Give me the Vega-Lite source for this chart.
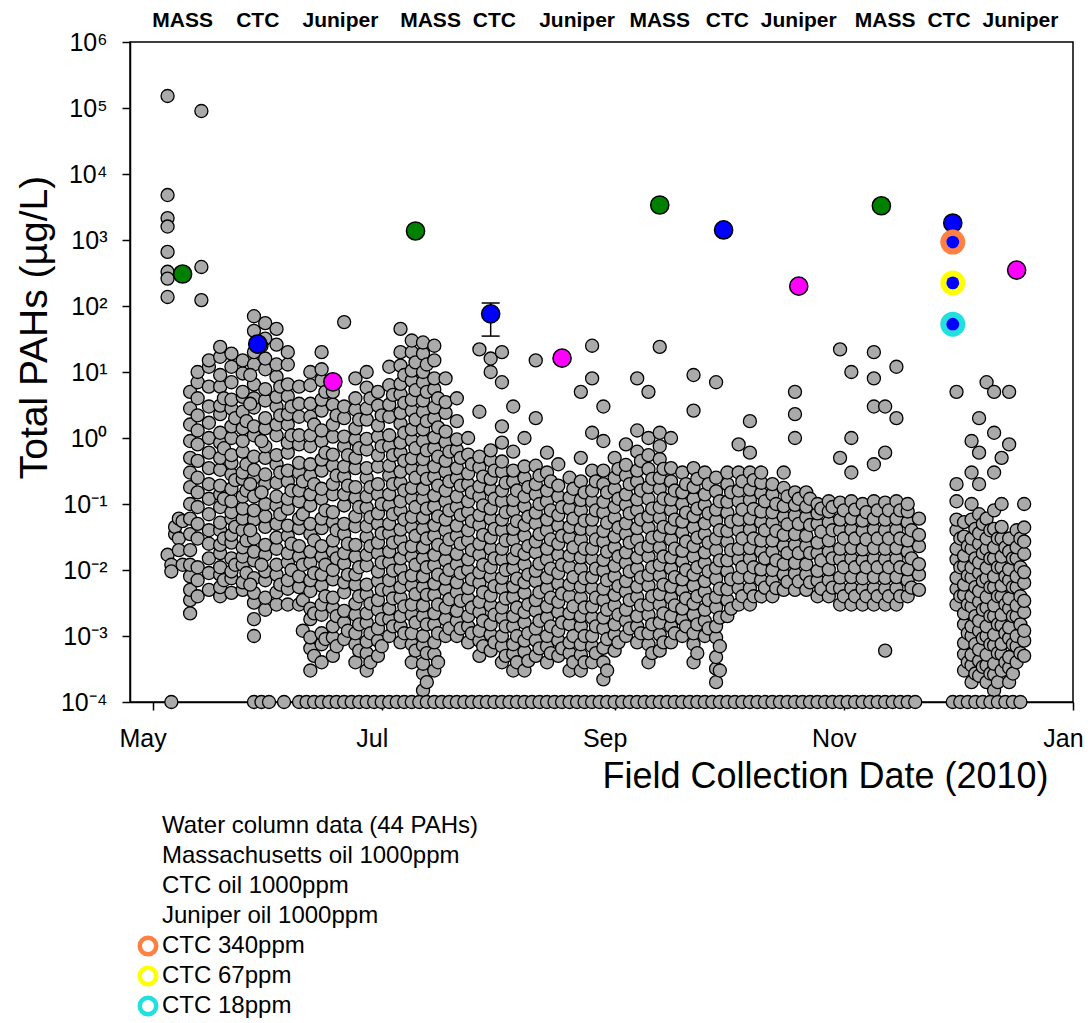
{
  "$schema": "https://vega.github.io/schema/vega-lite/v6.json",
  "width": 943,
  "height": 660,
  "autosize": "none",
  "padding": {"left": 130, "top": 42, "right": 15, "bottom": 321},
  "background": "white",
  "config": {
    "font": "Liberation Sans",
    "view": {"stroke": "black", "strokeWidth": 1.5},
    "axis": {"grid": false, "domainColor": "black", "domainWidth": 1.5, "tickColor": "black", "tickWidth": 1.5, "labelColor": "black", "titleColor": "black"}
  },
  "datasets": {
    "water": [
      {"day":125,"pah":152000},{"day":125,"pah":4800},{"day":125,"pah":2150},{"day":125,"pah":1600},{"day":125,"pah":660},{"day":125,"pah":330},{"day":125,"pah":260},{"day":125,"pah":137},{"day":125,"pah":0.017},{"day":126,"pah":0.012},{"day":126,"pah":0.0095},
      {"day":127,"pah":0.035},{"day":127,"pah":0.045},{"day":128,"pah":0.06},{"day":128,"pah":0.03},{"day":128,"pah":0.02},{"day":129,"pah":0.055},{"day":129,"pah":0.012},
      {"day":131,"pah":0.0022},{"day":131,"pah":0.0035},{"day":131,"pah":0.005},{"day":131,"pah":0.008},{"day":131,"pah":0.012},{"day":131,"pah":0.02},{"day":131,"pah":0.035},{"day":131,"pah":0.06},{"day":131,"pah":0.1},{"day":131,"pah":0.18},{"day":131,"pah":0.3},{"day":131,"pah":0.5},{"day":131,"pah":0.9},{"day":131,"pah":1.6},{"day":131,"pah":2.8},{"day":131,"pah":5},
      {"day":133,"pah":0.004},{"day":133,"pah":0.007},{"day":133,"pah":0.011},{"day":133,"pah":0.03},{"day":133,"pah":0.05},{"day":133,"pah":0.09},{"day":133,"pah":0.15},{"day":133,"pah":0.25},{"day":133,"pah":0.45},{"day":133,"pah":0.8},{"day":133,"pah":1.3},{"day":133,"pah":2.2},{"day":133,"pah":4},{"day":133,"pah":7},{"day":133,"pah":10},
      {"day":134,"pah":90000},{"day":134,"pah":390},{"day":134,"pah":123},
      {"day":136,"pah":0.005},{"day":136,"pah":0.009},{"day":136,"pah":0.015},{"day":136,"pah":0.025},{"day":136,"pah":0.04},{"day":136,"pah":0.07},{"day":136,"pah":0.12},{"day":136,"pah":0.2},{"day":136,"pah":0.35},{"day":136,"pah":0.6},{"day":136,"pah":1},{"day":136,"pah":1.7},{"day":136,"pah":3},{"day":136,"pah":6},{"day":136,"pah":12},{"day":136,"pah":15},
      {"day":139,"pah":0.004},{"day":139,"pah":0.0055},{"day":139,"pah":0.0085},{"day":139,"pah":0.011},{"day":139,"pah":0.018},{"day":139,"pah":0.024},{"day":139,"pah":0.04},{"day":139,"pah":0.052},{"day":139,"pah":0.09},{"day":139,"pah":0.14},{"day":139,"pah":0.19},{"day":139,"pah":0.33},{"day":139,"pah":0.5},{"day":139,"pah":0.85},{"day":139,"pah":1.2},{"day":139,"pah":2.3},{"day":139,"pah":3.1},{"day":139,"pah":6},{"day":139,"pah":9},{"day":139,"pah":17},{"day":139,"pah":24},
      {"day":140,"pah":0.007},{"day":140,"pah":0.03},{"day":140,"pah":0.12},{"day":140,"pah":0.7},{"day":140,"pah":4},
      {"day":142,"pah":0.0045},{"day":142,"pah":0.0075},{"day":142,"pah":0.0095},{"day":142,"pah":0.015},{"day":142,"pah":0.026},{"day":142,"pah":0.034},{"day":142,"pah":0.06},{"day":142,"pah":0.075},{"day":142,"pah":0.11},{"day":142,"pah":0.17},{"day":142,"pah":0.28},{"day":142,"pah":0.42},{"day":142,"pah":0.55},{"day":142,"pah":1},{"day":142,"pah":1.5},{"day":142,"pah":2.8},{"day":142,"pah":3.8},{"day":142,"pah":7},{"day":142,"pah":12},{"day":142,"pah":19},
      {"day":143,"pah":0.012},{"day":143,"pah":0.045},{"day":143,"pah":0.23},{"day":143,"pah":2},
      {"day":145,"pah":0.005},{"day":145,"pah":0.0065},{"day":145,"pah":0.012},{"day":145,"pah":0.016},{"day":145,"pah":0.022},{"day":145,"pah":0.04},{"day":145,"pah":0.06},{"day":145,"pah":0.085},{"day":145,"pah":0.13},{"day":145,"pah":0.24},{"day":145,"pah":0.3},{"day":145,"pah":0.62},{"day":145,"pah":0.9},{"day":145,"pah":1.4},{"day":145,"pah":2.5},{"day":145,"pah":4.2},{"day":145,"pah":5},{"day":145,"pah":9.5},{"day":145,"pah":15},
      {"day":146,"pah":0.009},{"day":146,"pah":0.028},{"day":146,"pah":0.16},{"day":146,"pah":0.4},{"day":146,"pah":1.8},
      {"day":148,"pah":0.001},{"day":148,"pah":0.0018},{"day":148,"pah":0.0032},{"day":148,"pah":0.0045},{"day":148,"pah":0.0075},{"day":148,"pah":0.014},{"day":148,"pah":0.019},{"day":148,"pah":0.03},{"day":148,"pah":0.058},{"day":148,"pah":0.08},{"day":148,"pah":0.13},{"day":148,"pah":0.25},{"day":148,"pah":0.33},{"day":148,"pah":0.52},{"day":148,"pah":1.1},{"day":148,"pah":1.5},{"day":148,"pah":2.9},{"day":148,"pah":4},{"day":148,"pah":6.5},{"day":148,"pah":13},{"day":148,"pah":20},{"day":148,"pah":42},{"day":148,"pah":70},
      {"day":147,"pah":0.006},{"day":147,"pah":0.04},{"day":147,"pah":0.2},{"day":147,"pah":3.3},{"day":147,"pah":9},
      {"day":151,"pah":0.0025},{"day":151,"pah":0.0038},{"day":151,"pah":0.007},{"day":151,"pah":0.0095},{"day":151,"pah":0.017},{"day":151,"pah":0.024},{"day":151,"pah":0.045},{"day":151,"pah":0.065},{"day":151,"pah":0.1},{"day":151,"pah":0.2},{"day":151,"pah":0.28},{"day":151,"pah":0.5},{"day":151,"pah":0.75},{"day":151,"pah":1.4},{"day":151,"pah":2},{"day":151,"pah":3.7},{"day":151,"pah":5.5},{"day":151,"pah":11},{"day":151,"pah":16},{"day":151,"pah":32},{"day":151,"pah":55},
      {"day":150,"pah":0.012},{"day":150,"pah":0.15},{"day":150,"pah":0.9},{"day":150,"pah":25},
      {"day":154,"pah":0.003},{"day":154,"pah":0.0046},{"day":154,"pah":0.0085},{"day":154,"pah":0.012},{"day":154,"pah":0.021},{"day":154,"pah":0.031},{"day":154,"pah":0.05},{"day":154,"pah":0.095},{"day":154,"pah":0.13},{"day":154,"pah":0.21},{"day":154,"pah":0.4},{"day":154,"pah":0.55},{"day":154,"pah":1.1},{"day":154,"pah":1.6},{"day":154,"pah":3},{"day":154,"pah":4.2},{"day":154,"pah":8.5},{"day":154,"pah":13},{"day":154,"pah":26},{"day":154,"pah":45},
      {"day":155,"pah":0.006},{"day":155,"pah":0.07},{"day":155,"pah":0.3},{"day":155,"pah":2.2},{"day":155,"pah":6},
      {"day":157,"pah":0.003},{"day":157,"pah":0.0052},{"day":157,"pah":0.007},{"day":157,"pah":0.013},{"day":157,"pah":0.018},{"day":157,"pah":0.033},{"day":157,"pah":0.047},{"day":157,"pah":0.085},{"day":157,"pah":0.12},{"day":157,"pah":0.22},{"day":157,"pah":0.32},{"day":157,"pah":0.6},{"day":157,"pah":0.85},{"day":157,"pah":1.6},{"day":157,"pah":2.3},{"day":157,"pah":4.3},{"day":157,"pah":6.5},{"day":157,"pah":13},{"day":157,"pah":20},
      {"day":158,"pah":0.01},{"day":158,"pah":0.025},{"day":158,"pah":0.16},{"day":158,"pah":1.1},{"day":158,"pah":3},
      {"day":160,"pah":0.003},{"day":160,"pah":0.0055},{"day":160,"pah":0.008},{"day":160,"pah":0.016},{"day":160,"pah":0.023},{"day":160,"pah":0.043},{"day":160,"pah":0.06},{"day":160,"pah":0.11},{"day":160,"pah":0.16},{"day":160,"pah":0.3},{"day":160,"pah":0.42},{"day":160,"pah":0.8},{"day":160,"pah":1.1},{"day":160,"pah":2.1},{"day":160,"pah":3.3},{"day":160,"pah":6},
      {"day":161,"pah":0.0012},{"day":161,"pah":0.0035},{"day":161,"pah":0.012},{"day":161,"pah":0.07},{"day":161,"pah":0.22},
      {"day":163,"pah":0.0003},{"day":163,"pah":0.00065},{"day":163,"pah":0.00095},{"day":163,"pah":0.0018},{"day":163,"pah":0.0026},{"day":163,"pah":0.0048},{"day":163,"pah":0.007},{"day":163,"pah":0.013},{"day":163,"pah":0.019},{"day":163,"pah":0.035},{"day":163,"pah":0.05},{"day":163,"pah":0.095},{"day":163,"pah":0.14},{"day":163,"pah":0.27},{"day":163,"pah":0.4},{"day":163,"pah":0.75},{"day":163,"pah":1.1},{"day":163,"pah":2.1},{"day":163,"pah":3.3},{"day":163,"pah":6.3},{"day":163,"pah":10},
      {"day":164,"pah":0.0005},{"day":164,"pah":0.0022},{"day":164,"pah":0.009},{"day":164,"pah":0.028},{"day":164,"pah":0.2},{"day":164,"pah":1.6},
      {"day":166,"pah":0.0004},{"day":166,"pah":0.00075},{"day":166,"pah":0.0011},{"day":166,"pah":0.0021},{"day":166,"pah":0.003},{"day":166,"pah":0.0058},{"day":166,"pah":0.0085},{"day":166,"pah":0.016},{"day":166,"pah":0.023},{"day":166,"pah":0.043},{"day":166,"pah":0.06},{"day":166,"pah":0.12},{"day":166,"pah":0.17},{"day":166,"pah":0.32},{"day":166,"pah":0.47},{"day":166,"pah":0.9},{"day":166,"pah":1.3},{"day":166,"pah":2.6},{"day":166,"pah":3.8},{"day":166,"pah":7.5},{"day":166,"pah":11},{"day":166,"pah":20},
      {"day":167,"pah":0.0009},{"day":167,"pah":0.004},{"day":167,"pah":0.012},{"day":167,"pah":0.08},{"day":167,"pah":0.6},{"day":167,"pah":5},
      {"day":169,"pah":0.0005},{"day":169,"pah":0.00095},{"day":169,"pah":0.0014},{"day":169,"pah":0.0027},{"day":169,"pah":0.0038},{"day":169,"pah":0.0072},{"day":169,"pah":0.01},{"day":169,"pah":0.019},{"day":169,"pah":0.028},{"day":169,"pah":0.053},{"day":169,"pah":0.075},{"day":169,"pah":0.14},{"day":169,"pah":0.2},{"day":169,"pah":0.38},{"day":169,"pah":0.56},{"day":169,"pah":1.05},{"day":169,"pah":1.6},{"day":169,"pah":3.2},{"day":169,"pah":5},
      {"day":170,"pah":0.0007},{"day":170,"pah":0.002},{"day":170,"pah":0.015},{"day":170,"pah":0.04},{"day":170,"pah":0.27},{"day":170,"pah":2.2},
      {"day":172,"pah":0.0009},{"day":172,"pah":0.0016},{"day":172,"pah":0.0024},{"day":172,"pah":0.0046},{"day":172,"pah":0.0065},{"day":172,"pah":0.0125},{"day":172,"pah":0.018},{"day":172,"pah":0.035},{"day":172,"pah":0.05},{"day":172,"pah":0.095},{"day":172,"pah":0.14},{"day":172,"pah":0.26},{"day":172,"pah":0.37},{"day":172,"pah":0.75},{"day":172,"pah":1.05},{"day":172,"pah":2},{"day":172,"pah":3},{"day":172,"pah":57},
      {"day":173,"pah":0.0012},{"day":173,"pah":0.0085},{"day":173,"pah":0.025},{"day":173,"pah":0.19},{"day":173,"pah":0.55},
      {"day":175,"pah":0.0004},{"day":175,"pah":0.00075},{"day":175,"pah":0.0011},{"day":175,"pah":0.0021},{"day":175,"pah":0.0031},{"day":175,"pah":0.006},{"day":175,"pah":0.0086},{"day":175,"pah":0.016},{"day":175,"pah":0.024},{"day":175,"pah":0.046},{"day":175,"pah":0.065},{"day":175,"pah":0.125},{"day":175,"pah":0.18},{"day":175,"pah":0.35},{"day":175,"pah":0.5},{"day":175,"pah":0.95},{"day":175,"pah":1.4},{"day":175,"pah":2.7},{"day":175,"pah":4},{"day":175,"pah":8},
      {"day":176,"pah":0.0006},{"day":176,"pah":0.0015},{"day":176,"pah":0.004},{"day":176,"pah":0.011},{"day":176,"pah":0.09},{"day":176,"pah":0.7},{"day":176,"pah":1.9},
      {"day":178,"pah":0.0003},{"day":178,"pah":0.00055},{"day":178,"pah":0.00082},{"day":178,"pah":0.0016},{"day":178,"pah":0.0022},{"day":178,"pah":0.0043},{"day":178,"pah":0.006},{"day":178,"pah":0.0118},{"day":178,"pah":0.017},{"day":178,"pah":0.032},{"day":178,"pah":0.046},{"day":178,"pah":0.088},{"day":178,"pah":0.13},{"day":178,"pah":0.25},{"day":178,"pah":0.35},{"day":178,"pah":0.67},{"day":178,"pah":0.97},{"day":178,"pah":1.9},{"day":178,"pah":2.8},{"day":178,"pah":5.8},{"day":178,"pah":10},
      {"day":179,"pah":0.0004},{"day":179,"pah":0.0011},{"day":179,"pah":0.0031},{"day":179,"pah":0.023},{"day":179,"pah":0.063},{"day":179,"pah":0.18},{"day":179,"pah":4},
      {"day":181,"pah":0.0005},{"day":181,"pah":0.00085},{"day":181,"pah":0.0013},{"day":181,"pah":0.0025},{"day":181,"pah":0.0035},{"day":181,"pah":0.0068},{"day":181,"pah":0.0095},{"day":181,"pah":0.018},{"day":181,"pah":0.026},{"day":181,"pah":0.05},{"day":181,"pah":0.072},{"day":181,"pah":0.14},{"day":181,"pah":0.2},{"day":181,"pah":0.37},{"day":181,"pah":0.55},{"day":181,"pah":1.05},{"day":181,"pah":1.55},{"day":181,"pah":3.1},{"day":181,"pah":5},
      {"day":182,"pah":0.0007},{"day":182,"pah":0.0018},{"day":182,"pah":0.005},{"day":182,"pah":0.013},{"day":182,"pah":0.036},{"day":182,"pah":0.1},{"day":182,"pah":0.75},{"day":182,"pah":2.2},
      {"day":184,"pah":0.001},{"day":184,"pah":0.0018},{"day":184,"pah":0.0026},{"day":184,"pah":0.0049},{"day":184,"pah":0.007},{"day":184,"pah":0.013},{"day":184,"pah":0.019},{"day":184,"pah":0.036},{"day":184,"pah":0.05},{"day":184,"pah":0.095},{"day":184,"pah":0.14},{"day":184,"pah":0.27},{"day":184,"pah":0.38},{"day":184,"pah":0.75},{"day":184,"pah":1.1},{"day":184,"pah":2.1},{"day":184,"pah":3.2},{"day":184,"pah":6.3},{"day":184,"pah":12},
      {"day":185,"pah":0.0014},{"day":185,"pah":0.0037},{"day":185,"pah":0.0098},{"day":185,"pah":0.026},{"day":185,"pah":0.07},{"day":185,"pah":0.2},{"day":185,"pah":0.55},{"day":185,"pah":4.5},
      {"day":187,"pah":0.0008},{"day":187,"pah":0.0014},{"day":187,"pah":0.002},{"day":187,"pah":0.0038},{"day":187,"pah":0.0055},{"day":187,"pah":0.0105},{"day":187,"pah":0.015},{"day":187,"pah":0.029},{"day":187,"pah":0.041},{"day":187,"pah":0.08},{"day":187,"pah":0.11},{"day":187,"pah":0.21},{"day":187,"pah":0.31},{"day":187,"pah":0.6},{"day":187,"pah":0.85},{"day":187,"pah":1.65},{"day":187,"pah":2.4},{"day":187,"pah":4.6},{"day":187,"pah":6.6},{"day":187,"pah":12.5},{"day":187,"pah":20},{"day":187,"pah":45},
      {"day":188,"pah":0.0011},{"day":188,"pah":0.0028},{"day":188,"pah":0.0075},{"day":188,"pah":0.021},{"day":188,"pah":0.058},{"day":188,"pah":0.16},{"day":188,"pah":0.45},{"day":188,"pah":1.2},{"day":188,"pah":3.4},{"day":188,"pah":9},
      {"day":190,"pah":0.0004},{"day":190,"pah":0.00075},{"day":190,"pah":0.0011},{"day":190,"pah":0.0021},{"day":190,"pah":0.003},{"day":190,"pah":0.0058},{"day":190,"pah":0.0083},{"day":190,"pah":0.016},{"day":190,"pah":0.023},{"day":190,"pah":0.044},{"day":190,"pah":0.064},{"day":190,"pah":0.12},{"day":190,"pah":0.175},{"day":190,"pah":0.34},{"day":190,"pah":0.49},{"day":190,"pah":0.93},{"day":190,"pah":1.35},{"day":190,"pah":2.6},{"day":190,"pah":3.8},{"day":190,"pah":7.4},{"day":190,"pah":10.5},{"day":190,"pah":20},{"day":190,"pah":30},
      {"day":191,"pah":0.0006},{"day":191,"pah":0.0016},{"day":191,"pah":0.0043},{"day":191,"pah":0.012},{"day":191,"pah":0.033},{"day":191,"pah":0.09},{"day":191,"pah":0.25},{"day":191,"pah":0.7},{"day":191,"pah":1.9},{"day":191,"pah":5.3},{"day":191,"pah":14},
      {"day":193,"pah":0.00015},{"day":193,"pah":0.00027},{"day":193,"pah":0.00038},{"day":193,"pah":0.00072},{"day":193,"pah":0.001},{"day":193,"pah":0.002},{"day":193,"pah":0.0029},{"day":193,"pah":0.0055},{"day":193,"pah":0.008},{"day":193,"pah":0.015},{"day":193,"pah":0.022},{"day":193,"pah":0.042},{"day":193,"pah":0.062},{"day":193,"pah":0.12},{"day":193,"pah":0.17},{"day":193,"pah":0.33},{"day":193,"pah":0.48},{"day":193,"pah":0.9},{"day":193,"pah":1.35},{"day":193,"pah":2.5},{"day":193,"pah":3.7},{"day":193,"pah":7},{"day":193,"pah":10},{"day":193,"pah":19},{"day":193,"pah":28},
      {"day":194,"pah":0.0002},{"day":194,"pah":0.00055},{"day":194,"pah":0.0015},{"day":194,"pah":0.0042},{"day":194,"pah":0.011},{"day":194,"pah":0.03},{"day":194,"pah":0.085},{"day":194,"pah":0.24},{"day":194,"pah":0.65},{"day":194,"pah":1.8},{"day":194,"pah":5},{"day":194,"pah":13},
      {"day":196,"pah":0.0003},{"day":196,"pah":0.00053},{"day":196,"pah":0.0008},{"day":196,"pah":0.0015},{"day":196,"pah":0.0022},{"day":196,"pah":0.0042},{"day":196,"pah":0.0062},{"day":196,"pah":0.0118},{"day":196,"pah":0.017},{"day":196,"pah":0.033},{"day":196,"pah":0.048},{"day":196,"pah":0.092},{"day":196,"pah":0.135},{"day":196,"pah":0.26},{"day":196,"pah":0.37},{"day":196,"pah":0.7},{"day":196,"pah":1.02},{"day":196,"pah":2},{"day":196,"pah":2.9},{"day":196,"pah":5.5},{"day":196,"pah":8},{"day":196,"pah":15},{"day":196,"pah":25},
      {"day":197,"pah":0.0004},{"day":197,"pah":0.0011},{"day":197,"pah":0.003},{"day":197,"pah":0.0085},{"day":197,"pah":0.024},{"day":197,"pah":0.065},{"day":197,"pah":0.19},{"day":197,"pah":0.52},{"day":197,"pah":1.45},{"day":197,"pah":4},
      {"day":199,"pah":0.001},{"day":199,"pah":0.0018},{"day":199,"pah":0.0027},{"day":199,"pah":0.0051},{"day":199,"pah":0.0074},{"day":199,"pah":0.014},{"day":199,"pah":0.021},{"day":199,"pah":0.04},{"day":199,"pah":0.058},{"day":199,"pah":0.11},{"day":199,"pah":0.16},{"day":199,"pah":0.31},{"day":199,"pah":0.45},{"day":199,"pah":0.87},{"day":199,"pah":1.25},{"day":199,"pah":2.4},{"day":199,"pah":3.5},{"day":199,"pah":8},
      {"day":200,"pah":0.0013},{"day":200,"pah":0.0036},{"day":200,"pah":0.01},{"day":200,"pah":0.029},{"day":200,"pah":0.08},{"day":200,"pah":0.22},{"day":200,"pah":0.62},
      {"day":202,"pah":0.001},{"day":202,"pah":0.0017},{"day":202,"pah":0.0024},{"day":202,"pah":0.0046},{"day":202,"pah":0.0065},{"day":202,"pah":0.0122},{"day":202,"pah":0.0175},{"day":202,"pah":0.033},{"day":202,"pah":0.047},{"day":202,"pah":0.09},{"day":202,"pah":0.13},{"day":202,"pah":0.245},{"day":202,"pah":0.35},{"day":202,"pah":0.66},{"day":202,"pah":0.95},{"day":202,"pah":1.8},{"day":202,"pah":4},
      {"day":203,"pah":0.0013},{"day":203,"pah":0.0034},{"day":203,"pah":0.009},{"day":203,"pah":0.025},{"day":203,"pah":0.068},{"day":203,"pah":0.19},{"day":203,"pah":0.5},
      {"day":205,"pah":0.0008},{"day":205,"pah":0.0014},{"day":205,"pah":0.002},{"day":205,"pah":0.0037},{"day":205,"pah":0.0053},{"day":205,"pah":0.0101},{"day":205,"pah":0.0145},{"day":205,"pah":0.028},{"day":205,"pah":0.04},{"day":205,"pah":0.076},{"day":205,"pah":0.11},{"day":205,"pah":0.2},{"day":205,"pah":0.29},{"day":205,"pah":0.56},{"day":205,"pah":1},
      {"day":206,"pah":0.0011},{"day":206,"pah":0.0027},{"day":206,"pah":0.0072},{"day":206,"pah":0.02},{"day":206,"pah":0.055},{"day":206,"pah":0.15},{"day":206,"pah":0.4},
      {"day":208,"pah":0.0005},{"day":208,"pah":0.00085},{"day":208,"pah":0.0012},{"day":208,"pah":0.0023},{"day":208,"pah":0.0033},{"day":208,"pah":0.0064},{"day":208,"pah":0.0092},{"day":208,"pah":0.017},{"day":208,"pah":0.025},{"day":208,"pah":0.048},{"day":208,"pah":0.068},{"day":208,"pah":0.13},{"day":208,"pah":0.185},{"day":208,"pah":0.36},{"day":208,"pah":0.52},{"day":208,"pah":2.5},{"day":208,"pah":22},
      {"day":209,"pah":0.0007},{"day":209,"pah":0.0017},{"day":209,"pah":0.0046},{"day":209,"pah":0.012},{"day":209,"pah":0.034},{"day":209,"pah":0.095},{"day":209,"pah":0.26},
      {"day":211,"pah":0.0006},{"day":211,"pah":0.00105},{"day":211,"pah":0.0015},{"day":211,"pah":0.0029},{"day":211,"pah":0.0041},{"day":211,"pah":0.0079},{"day":211,"pah":0.011},{"day":211,"pah":0.021},{"day":211,"pah":0.031},{"day":211,"pah":0.06},{"day":211,"pah":0.085},{"day":211,"pah":0.165},{"day":211,"pah":0.24},{"day":211,"pah":0.46},{"day":211,"pah":0.65},{"day":211,"pah":10},{"day":211,"pah":16},
      {"day":212,"pah":0.0008},{"day":212,"pah":0.0021},{"day":212,"pah":0.0057},{"day":212,"pah":0.015},{"day":212,"pah":0.042},{"day":212,"pah":0.12},{"day":212,"pah":0.32},
      {"day":214,"pah":0.0004},{"day":214,"pah":0.0007},{"day":214,"pah":0.001},{"day":214,"pah":0.0019},{"day":214,"pah":0.0027},{"day":214,"pah":0.0053},{"day":214,"pah":0.0076},{"day":214,"pah":0.0145},{"day":214,"pah":0.021},{"day":214,"pah":0.04},{"day":214,"pah":0.058},{"day":214,"pah":0.11},{"day":214,"pah":0.16},{"day":214,"pah":0.31},{"day":214,"pah":0.44},{"day":214,"pah":0.85},{"day":214,"pah":1.5},{"day":214,"pah":7},{"day":214,"pah":20},
      {"day":215,"pah":0.0005},{"day":215,"pah":0.0014},{"day":215,"pah":0.0037},{"day":215,"pah":0.01},{"day":215,"pah":0.028},{"day":215,"pah":0.075},{"day":215,"pah":0.21},
      {"day":217,"pah":0.0003},{"day":217,"pah":0.00054},{"day":217,"pah":0.00075},{"day":217,"pah":0.0014},{"day":217,"pah":0.002},{"day":217,"pah":0.0039},{"day":217,"pah":0.0056},{"day":217,"pah":0.0106},{"day":217,"pah":0.015},{"day":217,"pah":0.029},{"day":217,"pah":0.042},{"day":217,"pah":0.08},{"day":217,"pah":0.115},{"day":217,"pah":0.22},{"day":217,"pah":0.32},{"day":217,"pah":0.62},{"day":217,"pah":3},
      {"day":218,"pah":0.0004},{"day":218,"pah":0.001},{"day":218,"pah":0.0027},{"day":218,"pah":0.0074},{"day":218,"pah":0.02},{"day":218,"pah":0.055},{"day":218,"pah":0.16},
      {"day":220,"pah":0.0003},{"day":220,"pah":0.00058},{"day":220,"pah":0.00085},{"day":220,"pah":0.0016},{"day":220,"pah":0.0023},{"day":220,"pah":0.0045},{"day":220,"pah":0.0065},{"day":220,"pah":0.0122},{"day":220,"pah":0.0175},{"day":220,"pah":0.033},{"day":220,"pah":0.048},{"day":220,"pah":0.092},{"day":220,"pah":0.13},{"day":220,"pah":0.25},{"day":220,"pah":0.37},{"day":220,"pah":1},
      {"day":221,"pah":0.00042},{"day":221,"pah":0.0011},{"day":221,"pah":0.003},{"day":221,"pah":0.0085},{"day":221,"pah":0.023},{"day":221,"pah":0.064},{"day":221,"pah":0.18},
      {"day":223,"pah":0.0005},{"day":223,"pah":0.00086},{"day":223,"pah":0.0013},{"day":223,"pah":0.0024},{"day":223,"pah":0.0035},{"day":223,"pah":0.0068},{"day":223,"pah":0.0097},{"day":223,"pah":0.0185},{"day":223,"pah":0.027},{"day":223,"pah":0.051},{"day":223,"pah":0.074},{"day":223,"pah":0.14},{"day":223,"pah":0.2},{"day":223,"pah":0.38},{"day":223,"pah":2},{"day":223,"pah":15},
      {"day":224,"pah":0.00065},{"day":224,"pah":0.0017},{"day":224,"pah":0.0046},{"day":224,"pah":0.0125},{"day":224,"pah":0.035},{"day":224,"pah":0.1},{"day":224,"pah":0.27},
      {"day":226,"pah":0.0004},{"day":226,"pah":0.0007},{"day":226,"pah":0.001},{"day":226,"pah":0.0019},{"day":226,"pah":0.0028},{"day":226,"pah":0.0053},{"day":226,"pah":0.0077},{"day":226,"pah":0.0145},{"day":226,"pah":0.021},{"day":226,"pah":0.04},{"day":226,"pah":0.058},{"day":226,"pah":0.11},{"day":226,"pah":0.16},{"day":226,"pah":0.3},{"day":226,"pah":0.6},
      {"day":227,"pah":0.00055},{"day":227,"pah":0.0014},{"day":227,"pah":0.0038},{"day":227,"pah":0.0105},{"day":227,"pah":0.029},{"day":227,"pah":0.08},{"day":227,"pah":0.22},
      {"day":229,"pah":0.0005},{"day":229,"pah":0.00085},{"day":229,"pah":0.0012},{"day":229,"pah":0.0023},{"day":229,"pah":0.0033},{"day":229,"pah":0.0062},{"day":229,"pah":0.009},{"day":229,"pah":0.017},{"day":229,"pah":0.025},{"day":229,"pah":0.047},{"day":229,"pah":0.068},{"day":229,"pah":0.13},{"day":229,"pah":0.19},{"day":229,"pah":0.4},
      {"day":230,"pah":0.00065},{"day":230,"pah":0.0016},{"day":230,"pah":0.0044},{"day":230,"pah":0.012},{"day":230,"pah":0.033},{"day":230,"pah":0.09},
      {"day":232,"pah":0.0003},{"day":232,"pah":0.00055},{"day":232,"pah":0.0008},{"day":232,"pah":0.0015},{"day":232,"pah":0.0022},{"day":232,"pah":0.004},{"day":232,"pah":0.006},{"day":232,"pah":0.011},{"day":232,"pah":0.0165},{"day":232,"pah":0.031},{"day":232,"pah":0.045},{"day":232,"pah":0.085},{"day":232,"pah":0.125},{"day":232,"pah":0.25},
      {"day":233,"pah":0.0004},{"day":233,"pah":0.001},{"day":233,"pah":0.0028},{"day":233,"pah":0.0078},{"day":233,"pah":0.022},{"day":233,"pah":0.06},{"day":233,"pah":0.17},
      {"day":235,"pah":0.0003},{"day":235,"pah":0.00052},{"day":235,"pah":0.00075},{"day":235,"pah":0.0014},{"day":235,"pah":0.002},{"day":235,"pah":0.0038},{"day":235,"pah":0.0056},{"day":235,"pah":0.0105},{"day":235,"pah":0.0155},{"day":235,"pah":0.029},{"day":235,"pah":0.042},{"day":235,"pah":0.08},{"day":235,"pah":0.115},{"day":235,"pah":0.22},{"day":235,"pah":0.5},{"day":235,"pah":5},
      {"day":236,"pah":0.0004},{"day":236,"pah":0.001},{"day":236,"pah":0.0027},{"day":236,"pah":0.0075},{"day":236,"pah":0.021},{"day":236,"pah":0.056},{"day":236,"pah":0.15},
      {"day":238,"pah":0.0004},{"day":238,"pah":0.0007},{"day":238,"pah":0.001},{"day":238,"pah":0.0019},{"day":238,"pah":0.0028},{"day":238,"pah":0.0053},{"day":238,"pah":0.0078},{"day":238,"pah":0.0148},{"day":238,"pah":0.021},{"day":238,"pah":0.04},{"day":238,"pah":0.058},{"day":238,"pah":0.11},{"day":238,"pah":0.16},{"day":238,"pah":0.32},{"day":238,"pah":1.2},{"day":238,"pah":8},{"day":238,"pah":25},
      {"day":239,"pah":0.00055},{"day":239,"pah":0.0014},{"day":239,"pah":0.0038},{"day":239,"pah":0.0105},{"day":239,"pah":0.029},{"day":239,"pah":0.08},{"day":239,"pah":0.22},
      {"day":241,"pah":0.00022},{"day":241,"pah":0.0004},{"day":241,"pah":0.00066},{"day":241,"pah":0.0013},{"day":241,"pah":0.0019},{"day":241,"pah":0.0035},{"day":241,"pah":0.0052},{"day":241,"pah":0.0098},{"day":241,"pah":0.0142},{"day":241,"pah":0.027},{"day":241,"pah":0.039},{"day":241,"pah":0.074},{"day":241,"pah":0.108},{"day":241,"pah":0.2},{"day":241,"pah":0.32},{"day":241,"pah":0.9},{"day":241,"pah":3},
      {"day":242,"pah":0.0003},{"day":242,"pah":0.0009},{"day":242,"pah":0.0025},{"day":242,"pah":0.007},{"day":242,"pah":0.019},{"day":242,"pah":0.052},{"day":242,"pah":0.15},
      {"day":244,"pah":0.0006},{"day":244,"pah":0.00105},{"day":244,"pah":0.0015},{"day":244,"pah":0.0029},{"day":244,"pah":0.0042},{"day":244,"pah":0.008},{"day":244,"pah":0.0116},{"day":244,"pah":0.022},{"day":244,"pah":0.032},{"day":244,"pah":0.062},{"day":244,"pah":0.09},{"day":244,"pah":0.17},{"day":244,"pah":0.25},{"day":244,"pah":0.5},
      {"day":245,"pah":0.0008},{"day":245,"pah":0.0021},{"day":245,"pah":0.0057},{"day":245,"pah":0.016},{"day":245,"pah":0.044},{"day":245,"pah":0.12},{"day":245,"pah":0.34},
      {"day":247,"pah":0.001},{"day":247,"pah":0.0017},{"day":247,"pah":0.0025},{"day":247,"pah":0.0047},{"day":247,"pah":0.0068},{"day":247,"pah":0.0128},{"day":247,"pah":0.0185},{"day":247,"pah":0.035},{"day":247,"pah":0.051},{"day":247,"pah":0.097},{"day":247,"pah":0.14},{"day":247,"pah":0.27},{"day":247,"pah":0.39},{"day":247,"pah":0.8},
      {"day":248,"pah":0.0013},{"day":248,"pah":0.0035},{"day":248,"pah":0.0095},{"day":248,"pah":0.026},{"day":248,"pah":0.072},{"day":248,"pah":0.2},
      {"day":250,"pah":0.0008},{"day":250,"pah":0.0014},{"day":250,"pah":0.002},{"day":250,"pah":0.0039},{"day":250,"pah":0.0056},{"day":250,"pah":0.0106},{"day":250,"pah":0.0155},{"day":250,"pah":0.029},{"day":250,"pah":0.043},{"day":250,"pah":0.081},{"day":250,"pah":0.117},{"day":250,"pah":0.22},{"day":250,"pah":0.32},{"day":250,"pah":0.62},{"day":250,"pah":1.3},{"day":250,"pah":8},
      {"day":251,"pah":0.0011},{"day":251,"pah":0.0029},{"day":251,"pah":0.0077},{"day":251,"pah":0.021},{"day":251,"pah":0.058},{"day":251,"pah":0.16},{"day":251,"pah":0.45},
      {"day":253,"pah":0.0004},{"day":253,"pah":0.00075},{"day":253,"pah":0.0011},{"day":253,"pah":0.0021},{"day":253,"pah":0.003},{"day":253,"pah":0.0058},{"day":253,"pah":0.0084},{"day":253,"pah":0.016},{"day":253,"pah":0.023},{"day":253,"pah":0.044},{"day":253,"pah":0.065},{"day":253,"pah":0.12},{"day":253,"pah":0.18},{"day":253,"pah":0.34},{"day":253,"pah":0.55},{"day":253,"pah":1},{"day":253,"pah":5},
      {"day":254,"pah":0.00055},{"day":254,"pah":0.0015},{"day":254,"pah":0.004},{"day":254,"pah":0.011},{"day":254,"pah":0.031},{"day":254,"pah":0.085},{"day":254,"pah":0.24},
      {"day":256,"pah":0.0006},{"day":256,"pah":0.00105},{"day":256,"pah":0.0016},{"day":256,"pah":0.003},{"day":256,"pah":0.0043},{"day":256,"pah":0.0082},{"day":256,"pah":0.012},{"day":256,"pah":0.022},{"day":256,"pah":0.033},{"day":256,"pah":0.062},{"day":256,"pah":0.09},{"day":256,"pah":0.17},{"day":256,"pah":0.25},{"day":256,"pah":0.48},{"day":256,"pah":0.75},{"day":256,"pah":1.2},{"day":256,"pah":24},
      {"day":257,"pah":0.0008},{"day":257,"pah":0.0022},{"day":257,"pah":0.006},{"day":257,"pah":0.016},{"day":257,"pah":0.045},{"day":257,"pah":0.12},{"day":257,"pah":0.34},
      {"day":259,"pah":0.0008},{"day":259,"pah":0.0014},{"day":259,"pah":0.002},{"day":259,"pah":0.0038},{"day":259,"pah":0.0056},{"day":259,"pah":0.0106},{"day":259,"pah":0.0155},{"day":259,"pah":0.029},{"day":259,"pah":0.043},{"day":259,"pah":0.081},{"day":259,"pah":0.117},{"day":259,"pah":0.22},{"day":259,"pah":0.35},{"day":259,"pah":1},
      {"day":260,"pah":0.0011},{"day":260,"pah":0.0029},{"day":260,"pah":0.0078},{"day":260,"pah":0.021},{"day":260,"pah":0.058},{"day":260,"pah":0.16},
      {"day":262,"pah":0.001},{"day":262,"pah":0.0018},{"day":262,"pah":0.0026},{"day":262,"pah":0.0049},{"day":262,"pah":0.0072},{"day":262,"pah":0.0135},{"day":262,"pah":0.0195},{"day":262,"pah":0.037},{"day":262,"pah":0.054},{"day":262,"pah":0.1},{"day":262,"pah":0.15},{"day":262,"pah":0.3},
      {"day":263,"pah":0.0014},{"day":263,"pah":0.0037},{"day":263,"pah":0.01},{"day":263,"pah":0.027},{"day":263,"pah":0.074},{"day":263,"pah":0.2},
      {"day":265,"pah":0.0004},{"day":265,"pah":0.00075},{"day":265,"pah":0.0011},{"day":265,"pah":0.0021},{"day":265,"pah":0.0031},{"day":265,"pah":0.0058},{"day":265,"pah":0.0085},{"day":265,"pah":0.016},{"day":265,"pah":0.023},{"day":265,"pah":0.044},{"day":265,"pah":0.065},{"day":265,"pah":0.12},{"day":265,"pah":0.18},{"day":265,"pah":0.35},{"day":265,"pah":2.6},{"day":265,"pah":9},
      {"day":266,"pah":0.00055},{"day":266,"pah":0.0015},{"day":266,"pah":0.004},{"day":266,"pah":0.011},{"day":266,"pah":0.031},{"day":266,"pah":0.085},{"day":266,"pah":0.24},
      {"day":268,"pah":0.001},{"day":268,"pah":0.0017},{"day":268,"pah":0.0025},{"day":268,"pah":0.0047},{"day":268,"pah":0.0068},{"day":268,"pah":0.0128},{"day":268,"pah":0.0185},{"day":268,"pah":0.035},{"day":268,"pah":0.051},{"day":268,"pah":0.097},{"day":268,"pah":0.14},{"day":268,"pah":0.3},
      {"day":269,"pah":0.0013},{"day":269,"pah":0.0035},{"day":269,"pah":0.0095},{"day":269,"pah":0.026},{"day":269,"pah":0.072},{"day":269,"pah":0.2},
      {"day":271,"pah":0.0002},{"day":271,"pah":0.00032},{"day":271,"pah":0.00048},{"day":271,"pah":0.00095},{"day":271,"pah":0.0014},{"day":271,"pah":0.0027},{"day":271,"pah":0.0039},{"day":271,"pah":0.0074},{"day":271,"pah":0.0108},{"day":271,"pah":0.02},{"day":271,"pah":0.03},{"day":271,"pah":0.056},{"day":271,"pah":0.082},{"day":271,"pah":0.155},{"day":271,"pah":0.25},{"day":271,"pah":7},
      {"day":272,"pah":0.0003},{"day":272,"pah":0.0007},{"day":272,"pah":0.0019},{"day":272,"pah":0.0052},{"day":272,"pah":0.014},{"day":272,"pah":0.04},{"day":272,"pah":0.11},
      {"day":274,"pah":0.002},{"day":274,"pah":0.0035},{"day":274,"pah":0.0051},{"day":274,"pah":0.0096},{"day":274,"pah":0.014},{"day":274,"pah":0.027},{"day":274,"pah":0.039},{"day":274,"pah":0.074},{"day":274,"pah":0.108},{"day":274,"pah":0.2},{"day":274,"pah":0.3},
      {"day":275,"pah":0.0026},{"day":275,"pah":0.0072},{"day":275,"pah":0.02},{"day":275,"pah":0.054},{"day":275,"pah":0.15},
      {"day":277,"pah":0.003},{"day":277,"pah":0.0053},{"day":277,"pah":0.0077},{"day":277,"pah":0.0145},{"day":277,"pah":0.021},{"day":277,"pah":0.04},{"day":277,"pah":0.058},{"day":277,"pah":0.11},{"day":277,"pah":0.16},{"day":277,"pah":0.3},{"day":277,"pah":0.8},
      {"day":278,"pah":0.004},{"day":278,"pah":0.011},{"day":278,"pah":0.03},{"day":278,"pah":0.082},{"day":278,"pah":0.22},
      {"day":280,"pah":0.003},{"day":280,"pah":0.0053},{"day":280,"pah":0.0078},{"day":280,"pah":0.0148},{"day":280,"pah":0.0215},{"day":280,"pah":0.041},{"day":280,"pah":0.06},{"day":280,"pah":0.115},{"day":280,"pah":0.165},{"day":280,"pah":0.3},{"day":280,"pah":0.6},{"day":280,"pah":1.8},
      {"day":281,"pah":0.004},{"day":281,"pah":0.011},{"day":281,"pah":0.03},{"day":281,"pah":0.084},{"day":281,"pah":0.23},
      {"day":283,"pah":0.004},{"day":283,"pah":0.007},{"day":283,"pah":0.0102},{"day":283,"pah":0.019},{"day":283,"pah":0.028},{"day":283,"pah":0.053},{"day":283,"pah":0.077},{"day":283,"pah":0.145},{"day":283,"pah":0.21},{"day":283,"pah":0.3},
      {"day":284,"pah":0.0054},{"day":284,"pah":0.015},{"day":284,"pah":0.04},{"day":284,"pah":0.11},
      {"day":286,"pah":0.004},{"day":286,"pah":0.0069},{"day":286,"pah":0.01},{"day":286,"pah":0.019},{"day":286,"pah":0.028},{"day":286,"pah":0.052},{"day":286,"pah":0.075},{"day":286,"pah":0.14},{"day":286,"pah":0.2},
      {"day":287,"pah":0.0053},{"day":287,"pah":0.014},{"day":287,"pah":0.039},{"day":287,"pah":0.1},
      {"day":289,"pah":0.005},{"day":289,"pah":0.0085},{"day":289,"pah":0.0123},{"day":289,"pah":0.023},{"day":289,"pah":0.034},{"day":289,"pah":0.064},{"day":289,"pah":0.093},{"day":289,"pah":0.175},{"day":289,"pah":0.3},
      {"day":290,"pah":0.0066},{"day":290,"pah":0.018},{"day":290,"pah":0.049},{"day":290,"pah":0.13},
      {"day":292,"pah":0.005},{"day":292,"pah":0.0088},{"day":292,"pah":0.0128},{"day":292,"pah":0.024},{"day":292,"pah":0.035},{"day":292,"pah":0.067},{"day":292,"pah":0.097},{"day":292,"pah":0.15},{"day":292,"pah":1},{"day":292,"pah":2.3},{"day":292,"pah":5},
      {"day":293,"pah":0.0067},{"day":293,"pah":0.018},{"day":293,"pah":0.05},{"day":293,"pah":0.12},
      {"day":295,"pah":0.005},{"day":295,"pah":0.0085},{"day":295,"pah":0.0122},{"day":295,"pah":0.023},{"day":295,"pah":0.033},{"day":295,"pah":0.063},{"day":295,"pah":0.091},{"day":295,"pah":0.15},
      {"day":296,"pah":0.0065},{"day":296,"pah":0.018},{"day":296,"pah":0.048},{"day":296,"pah":0.12},
      {"day":298,"pah":0.004},{"day":298,"pah":0.0069},{"day":298,"pah":0.0097},{"day":298,"pah":0.018},{"day":298,"pah":0.026},{"day":298,"pah":0.05},{"day":298,"pah":0.072},{"day":298,"pah":0.1},
      {"day":299,"pah":0.0052},{"day":299,"pah":0.014},{"day":299,"pah":0.038},{"day":299,"pah":0.085},
      {"day":301,"pah":0.004},{"day":301,"pah":0.007},{"day":301,"pah":0.0102},{"day":301,"pah":0.019},{"day":301,"pah":0.028},{"day":301,"pah":0.053},{"day":301,"pah":0.077},{"day":301,"pah":0.11},
      {"day":302,"pah":0.0054},{"day":302,"pah":0.015},{"day":302,"pah":0.04},{"day":302,"pah":0.09},
      {"day":304,"pah":0.003},{"day":304,"pah":0.0053},{"day":304,"pah":0.0077},{"day":304,"pah":0.0145},{"day":304,"pah":0.021},{"day":304,"pah":0.04},{"day":304,"pah":0.058},{"day":304,"pah":0.105},{"day":304,"pah":0.5},{"day":304,"pah":22},
      {"day":305,"pah":0.004},{"day":305,"pah":0.011},{"day":305,"pah":0.03},{"day":305,"pah":0.08},
      {"day":307,"pah":0.003},{"day":307,"pah":0.0053},{"day":307,"pah":0.0078},{"day":307,"pah":0.0148},{"day":307,"pah":0.0215},{"day":307,"pah":0.041},{"day":307,"pah":0.06},{"day":307,"pah":0.11},{"day":307,"pah":0.3},{"day":307,"pah":1},{"day":307,"pah":10},
      {"day":308,"pah":0.004},{"day":308,"pah":0.011},{"day":308,"pah":0.03},{"day":308,"pah":0.082},
      {"day":310,"pah":0.003},{"day":310,"pah":0.0052},{"day":310,"pah":0.0075},{"day":310,"pah":0.014},{"day":310,"pah":0.0205},{"day":310,"pah":0.039},{"day":310,"pah":0.056},{"day":310,"pah":0.1},
      {"day":311,"pah":0.004},{"day":311,"pah":0.011},{"day":311,"pah":0.029},{"day":311,"pah":0.075},
      {"day":313,"pah":0.003},{"day":313,"pah":0.0053},{"day":313,"pah":0.0078},{"day":313,"pah":0.0148},{"day":313,"pah":0.0215},{"day":313,"pah":0.041},{"day":313,"pah":0.06},{"day":313,"pah":0.11},{"day":313,"pah":0.4},{"day":313,"pah":3},{"day":313,"pah":8},{"day":313,"pah":20},
      {"day":314,"pah":0.004},{"day":314,"pah":0.011},{"day":314,"pah":0.03},{"day":314,"pah":0.08},
      {"day":316,"pah":0.0006},{"day":316,"pah":0.003},{"day":316,"pah":0.0052},{"day":316,"pah":0.0076},{"day":316,"pah":0.0145},{"day":316,"pah":0.021},{"day":316,"pah":0.04},{"day":316,"pah":0.058},{"day":316,"pah":0.105},{"day":316,"pah":0.6},{"day":316,"pah":3},
      {"day":317,"pah":0.004},{"day":317,"pah":0.011},{"day":317,"pah":0.03},{"day":317,"pah":0.08},
      {"day":319,"pah":0.003},{"day":319,"pah":0.0053},{"day":319,"pah":0.0078},{"day":319,"pah":0.0148},{"day":319,"pah":0.0215},{"day":319,"pah":0.041},{"day":319,"pah":0.06},{"day":319,"pah":0.11},{"day":319,"pah":2},{"day":319,"pah":12},
      {"day":320,"pah":0.004},{"day":320,"pah":0.011},{"day":320,"pah":0.03},{"day":320,"pah":0.08},
      {"day":322,"pah":0.004},{"day":322,"pah":0.007},{"day":322,"pah":0.0102},{"day":322,"pah":0.019},{"day":322,"pah":0.028},{"day":322,"pah":0.053},{"day":322,"pah":0.077},{"day":322,"pah":0.1},
      {"day":323,"pah":0.0054},{"day":323,"pah":0.015},{"day":323,"pah":0.04},
      {"day":325,"pah":0.005},{"day":325,"pah":0.0085},{"day":325,"pah":0.0123},{"day":325,"pah":0.023},{"day":325,"pah":0.034},{"day":325,"pah":0.06},
      {"day":335,"pah":0.003},{"day":335,"pah":0.0052},{"day":335,"pah":0.0076},{"day":335,"pah":0.0145},{"day":335,"pah":0.021},{"day":335,"pah":0.04},{"day":335,"pah":0.058},{"day":335,"pah":0.11},{"day":335,"pah":0.2},{"day":335,"pah":5},
      {"day":336,"pah":0.004},{"day":336,"pah":0.011},{"day":336,"pah":0.03},
      {"day":337,"pah":0.0003},{"day":337,"pah":0.00053},{"day":337,"pah":0.00078},{"day":337,"pah":0.0015},{"day":337,"pah":0.0022},{"day":337,"pah":0.0042},{"day":337,"pah":0.006},{"day":337,"pah":0.0115},{"day":337,"pah":0.0165},{"day":337,"pah":0.032},{"day":337,"pah":0.053},
      {"day":338,"pah":0.0004},{"day":338,"pah":0.0011},{"day":338,"pah":0.003},{"day":338,"pah":0.0082},{"day":338,"pah":0.023},
      {"day":339,"pah":0.0002},{"day":339,"pah":0.00036},{"day":339,"pah":0.00052},{"day":339,"pah":0.001},{"day":339,"pah":0.0014},{"day":339,"pah":0.0028},{"day":339,"pah":0.004},{"day":339,"pah":0.0077},{"day":339,"pah":0.011},{"day":339,"pah":0.021},{"day":339,"pah":0.03},{"day":339,"pah":0.058},{"day":339,"pah":0.1},{"day":339,"pah":0.3},{"day":339,"pah":0.9},
      {"day":340,"pah":0.00027},{"day":340,"pah":0.00075},{"day":340,"pah":0.002},{"day":340,"pah":0.0055},{"day":340,"pah":0.015},{"day":340,"pah":0.042},
      {"day":341,"pah":0.00025},{"day":341,"pah":0.00042},{"day":341,"pah":0.00062},{"day":341,"pah":0.0012},{"day":341,"pah":0.0017},{"day":341,"pah":0.0033},{"day":341,"pah":0.0048},{"day":341,"pah":0.009},{"day":341,"pah":0.013},{"day":341,"pah":0.025},{"day":341,"pah":0.036},{"day":341,"pah":0.07},{"day":341,"pah":0.2},{"day":341,"pah":0.6},{"day":341,"pah":2},
      {"day":342,"pah":0.00034},{"day":342,"pah":0.00092},{"day":342,"pah":0.0025},{"day":342,"pah":0.0068},{"day":342,"pah":0.018},{"day":342,"pah":0.05},
      {"day":343,"pah":0.0002},{"day":343,"pah":0.00036},{"day":343,"pah":0.00052},{"day":343,"pah":0.001},{"day":343,"pah":0.0014},{"day":343,"pah":0.0027},{"day":343,"pah":0.0039},{"day":343,"pah":0.0075},{"day":343,"pah":0.0108},{"day":343,"pah":0.021},{"day":343,"pah":0.03},{"day":343,"pah":0.06},{"day":343,"pah":7},
      {"day":344,"pah":0.00027},{"day":344,"pah":0.00075},{"day":344,"pah":0.002},{"day":344,"pah":0.0055},{"day":344,"pah":0.015},{"day":344,"pah":0.04},
      {"day":345,"pah":0.00015},{"day":345,"pah":0.00026},{"day":345,"pah":0.00038},{"day":345,"pah":0.00072},{"day":345,"pah":0.00105},{"day":345,"pah":0.002},{"day":345,"pah":0.0029},{"day":345,"pah":0.0055},{"day":345,"pah":0.008},{"day":345,"pah":0.015},{"day":345,"pah":0.022},{"day":345,"pah":0.042},{"day":345,"pah":0.08},{"day":345,"pah":0.3},{"day":345,"pah":1.2},{"day":345,"pah":5},
      {"day":346,"pah":0.0002},{"day":346,"pah":0.00055},{"day":346,"pah":0.0015},{"day":346,"pah":0.004},{"day":346,"pah":0.011},{"day":346,"pah":0.03},
      {"day":347,"pah":0.0003},{"day":347,"pah":0.00053},{"day":347,"pah":0.00076},{"day":347,"pah":0.00145},{"day":347,"pah":0.0021},{"day":347,"pah":0.004},{"day":347,"pah":0.0058},{"day":347,"pah":0.011},{"day":347,"pah":0.016},{"day":347,"pah":0.03},{"day":347,"pah":0.045},{"day":347,"pah":0.1},{"day":347,"pah":0.5},
      {"day":348,"pah":0.0004},{"day":348,"pah":0.0011},{"day":348,"pah":0.003},{"day":348,"pah":0.008},{"day":348,"pah":0.022},
      {"day":349,"pah":0.0002},{"day":349,"pah":0.00033},{"day":349,"pah":0.00048},{"day":349,"pah":0.00092},{"day":349,"pah":0.00135},{"day":349,"pah":0.0026},{"day":349,"pah":0.0037},{"day":349,"pah":0.007},{"day":349,"pah":0.0102},{"day":349,"pah":0.019},{"day":349,"pah":0.03},{"day":349,"pah":0.8},{"day":349,"pah":5},
      {"day":350,"pah":0.00027},{"day":350,"pah":0.00075},{"day":350,"pah":0.002},{"day":350,"pah":0.0055},{"day":350,"pah":0.015},
      {"day":351,"pah":0.0004},{"day":351,"pah":0.0007},{"day":351,"pah":0.001},{"day":351,"pah":0.002},{"day":351,"pah":0.0029},{"day":351,"pah":0.0055},{"day":351,"pah":0.008},{"day":351,"pah":0.015},{"day":351,"pah":0.022},{"day":351,"pah":0.04},
      {"day":352,"pah":0.00055},{"day":352,"pah":0.0015},{"day":352,"pah":0.004},{"day":352,"pah":0.011},{"day":352,"pah":0.03},
      {"day":353,"pah":0.0005},{"day":353,"pah":0.00085},{"day":353,"pah":0.0012},{"day":353,"pah":0.0023},{"day":353,"pah":0.0034},{"day":353,"pah":0.0064},{"day":353,"pah":0.0093},{"day":353,"pah":0.0175},{"day":353,"pah":0.027},{"day":353,"pah":0.044},{"day":353,"pah":0.1},
      {"day":126,"pah":0.0001},{"day":148,"pah":0.0001},{"day":150,"pah":0.0001},{"day":152,"pah":0.0001},{"day":156,"pah":0.0001},
      {"day":160,"pah":0.0001},{"day":162,"pah":0.0001},{"day":164,"pah":0.0001},{"day":166,"pah":0.0001},{"day":168,"pah":0.0001},{"day":170,"pah":0.0001},{"day":172,"pah":0.0001},{"day":174,"pah":0.0001},{"day":176,"pah":0.0001},{"day":178,"pah":0.0001},
      {"day":180,"pah":0.0001},{"day":182,"pah":0.0001},{"day":184,"pah":0.0001},{"day":186,"pah":0.0001},{"day":188,"pah":0.0001},{"day":190,"pah":0.0001},{"day":192,"pah":0.0001},{"day":194,"pah":0.0001},{"day":196,"pah":0.0001},{"day":198,"pah":0.0001},
      {"day":200,"pah":0.0001},{"day":202,"pah":0.0001},{"day":204,"pah":0.0001},{"day":206,"pah":0.0001},{"day":208,"pah":0.0001},{"day":210,"pah":0.0001},{"day":212,"pah":0.0001},{"day":214,"pah":0.0001},{"day":216,"pah":0.0001},{"day":218,"pah":0.0001},
      {"day":220,"pah":0.0001},{"day":222,"pah":0.0001},{"day":224,"pah":0.0001},{"day":226,"pah":0.0001},{"day":228,"pah":0.0001},{"day":230,"pah":0.0001},{"day":232,"pah":0.0001},{"day":234,"pah":0.0001},{"day":236,"pah":0.0001},{"day":238,"pah":0.0001},
      {"day":240,"pah":0.0001},{"day":242,"pah":0.0001},{"day":244,"pah":0.0001},{"day":246,"pah":0.0001},{"day":248,"pah":0.0001},{"day":250,"pah":0.0001},{"day":252,"pah":0.0001},{"day":254,"pah":0.0001},{"day":256,"pah":0.0001},{"day":258,"pah":0.0001},
      {"day":260,"pah":0.0001},{"day":262,"pah":0.0001},{"day":264,"pah":0.0001},{"day":266,"pah":0.0001},{"day":268,"pah":0.0001},{"day":270,"pah":0.0001},{"day":272,"pah":0.0001},{"day":274,"pah":0.0001},{"day":276,"pah":0.0001},{"day":278,"pah":0.0001},
      {"day":280,"pah":0.0001},{"day":282,"pah":0.0001},{"day":284,"pah":0.0001},{"day":286,"pah":0.0001},{"day":288,"pah":0.0001},{"day":290,"pah":0.0001},{"day":292,"pah":0.0001},{"day":294,"pah":0.0001},{"day":296,"pah":0.0001},{"day":298,"pah":0.0001},
      {"day":300,"pah":0.0001},{"day":302,"pah":0.0001},{"day":304,"pah":0.0001},{"day":306,"pah":0.0001},{"day":308,"pah":0.0001},{"day":310,"pah":0.0001},{"day":312,"pah":0.0001},{"day":314,"pah":0.0001},{"day":316,"pah":0.0001},{"day":318,"pah":0.0001},
      {"day":320,"pah":0.0001},{"day":322,"pah":0.0001},{"day":324,"pah":0.0001},
      {"day":334,"pah":0.0001},{"day":336,"pah":0.0001},{"day":338,"pah":0.0001},{"day":340,"pah":0.0001},{"day":342,"pah":0.0001},{"day":344,"pah":0.0001},{"day":346,"pah":0.0001},{"day":348,"pah":0.0001},{"day":350,"pah":0.0001},{"day":352,"pah":0.0001}
    ],
    "oil": [
      {"day":129,"pah":305,"oil":"MASS"},
      {"day":191,"pah":1370,"oil":"MASS"},
      {"day":256,"pah":3390,"oil":"MASS"},
      {"day":315,"pah":3300,"oil":"MASS"},
      {"day":149,"pah":26.5,"oil":"CTC"},
      {"day":211,"pah":76,"oil":"CTC","lo":35,"hi":111},
      {"day":273,"pah":1420,"oil":"CTC"},
      {"day":334,"pah":1810,"oil":"CTC"},
      {"day":169,"pah":7.1,"oil":"Juniper"},
      {"day":230,"pah":16.2,"oil":"Juniper"},
      {"day":293,"pah":200,"oil":"Juniper"},
      {"day":351,"pah":350,"oil":"Juniper"}
    ],
    "dilution": [
      {"day":334,"pah":930,"series":"CTC 340ppm"},
      {"day":334,"pah":224,"series":"CTC 67ppm"},
      {"day":334,"pah":53,"series":"CTC 18ppm"}
    ],
    "labels": [
      {"day":129,"label":"MASS"},{"day":149,"label":"CTC"},{"day":171,"label":"Juniper"},
      {"day":195,"label":"MASS"},{"day":212,"label":"CTC"},{"day":234,"label":"Juniper"},
      {"day":256,"label":"MASS"},{"day":274,"label":"CTC"},{"day":293,"label":"Juniper"},
      {"day":316,"label":"MASS"},{"day":333,"label":"CTC"},{"day":352,"label":"Juniper"}
    ]
  },
  "layer": [
    {
      "data": {"name": "water"},
      "mark": {"type": "circle", "size": 170, "fill": "#AAAAAA", "stroke": "black", "strokeWidth": 1.3, "opacity": 1},
      "encoding": {
        "x": {
          "field": "day", "type": "quantitative",
          "scale": {"domain": [115, 366], "nice": false, "zero": false},
          "axis": {
            "values": [121, 182, 244, 305, 366],
            "labelExpr": "datum.value == 121 ? 'May' : datum.value == 182 ? 'Jul' : datum.value == 244 ? 'Sep' : datum.value == 305 ? 'Nov' : 'Jan'",
            "labelFontSize": 25, "labelPadding": 16, "labelOffset": -10, "tickSize": 8, "labelFlush": false, "labelOverlap": false,
            "title": "Field Collection Date (2010)", "titleFontSize": 36, "titleFontWeight": "normal",
            "titleX": 695, "titleY": 85, "titleBaseline": "alphabetic", "titleAlign": "center"
          }
        },
        "y": {
          "field": "pah", "type": "quantitative",
          "scale": {"type": "log", "domain": [0.0001, 1000000], "nice": false},
          "axis": {
            "values": [0.0001, 0.001, 0.01, 0.1, 1, 10, 100, 1000, 10000, 100000, 1000000],
            "labelExpr": "'10' + ['⁻⁴','⁻³','⁻²','⁻¹','⁰','¹','²','³','⁴','⁵','⁶'][round(log(datum.value) / LN10) + 4]",
            "labelFontSize": 25, "labelPadding": 15, "tickSize": 8, "labelFlush": false, "labelOverlap": false,
            "title": "Total PAHs (µg/L)", "titleFontSize": 39, "titleFontWeight": "normal",
            "titleX": -96, "titleY": 285, "titleAlign": "center", "titleBaseline": "middle"
          }
        }
      }
    },
    {
      "data": {"name": "oil"},
      "transform": [{"filter": "isValid(datum.lo)"}],
      "mark": {"type": "rule", "color": "black", "strokeWidth": 1.5},
      "encoding": {
        "x": {"field": "day", "type": "quantitative"},
        "y": {"field": "lo", "type": "quantitative"},
        "y2": {"field": "hi"}
      }
    },
    {
      "data": {"name": "oil"},
      "transform": [{"filter": "isValid(datum.lo)"}],
      "mark": {"type": "tick", "orient": "horizontal", "color": "black", "size": 18, "thickness": 1.5, "opacity": 1},
      "encoding": {
        "x": {"field": "day", "type": "quantitative"},
        "y": {"field": "lo", "type": "quantitative"}
      }
    },
    {
      "data": {"name": "oil"},
      "transform": [{"filter": "isValid(datum.hi)"}],
      "mark": {"type": "tick", "orient": "horizontal", "color": "black", "size": 18, "thickness": 1.5, "opacity": 1},
      "encoding": {
        "x": {"field": "day", "type": "quantitative"},
        "y": {"field": "hi", "type": "quantitative"}
      }
    },
    {
      "data": {"name": "oil"},
      "mark": {"type": "circle", "size": 330, "stroke": "black", "strokeWidth": 1.5, "opacity": 1},
      "encoding": {
        "x": {"field": "day", "type": "quantitative"},
        "y": {"field": "pah", "type": "quantitative"},
        "fill": {
          "field": "oil", "type": "nominal",
          "scale": {"domain": ["MASS", "CTC", "Juniper"], "range": ["#008000", "#0000FF", "#FF00FF"]},
          "legend": null
        }
      }
    },
    {
      "data": {"name": "dilution"},
      "mark": {"type": "point", "shape": "circle", "filled": false, "size": 353, "strokeWidth": 6.2, "opacity": 1},
      "encoding": {
        "x": {"field": "day", "type": "quantitative"},
        "y": {"field": "pah", "type": "quantitative"},
        "stroke": {
          "field": "series", "type": "nominal",
          "scale": {
            "domain": ["Water column data (44 PAHs)", "Massachusetts oil 1000ppm", "CTC oil 1000ppm", "Juniper oil 1000ppm", "CTC 340ppm", "CTC 67ppm", "CTC 18ppm"],
            "range": ["transparent", "transparent", "transparent", "transparent", "#FF8040", "#FFFF00", "#20E0E0"]
          },
          "legend": {
            "orient": "none", "legendX": 6, "legendY": 772, "title": null, "padding": 0,
            "symbolType": "circle", "symbolSize": 272, "symbolStrokeWidth": 4.5,
            "labelFont": "Liberation Sans", "labelFontSize": 24, "labelColor": "black", "labelOffset": 2,
            "rowPadding": -6, "labelLimit": 500
          }
        }
      }
    },
    {
      "data": {"name": "dilution"},
      "mark": {"type": "circle", "size": 165, "fill": "#0000FF", "opacity": 1},
      "encoding": {
        "x": {"field": "day", "type": "quantitative"},
        "y": {"field": "pah", "type": "quantitative"}
      }
    },
    {
      "data": {"name": "labels"},
      "mark": {"type": "text", "font": "Liberation Sans", "fontSize": 21, "fontWeight": "bold", "color": "black", "align": "center", "baseline": "alphabetic", "dy": -15},
      "encoding": {
        "x": {"field": "day", "type": "quantitative"},
        "y": {"datum": 1000000, "type": "quantitative"},
        "text": {"field": "label"}
      }
    }
  ]
}
